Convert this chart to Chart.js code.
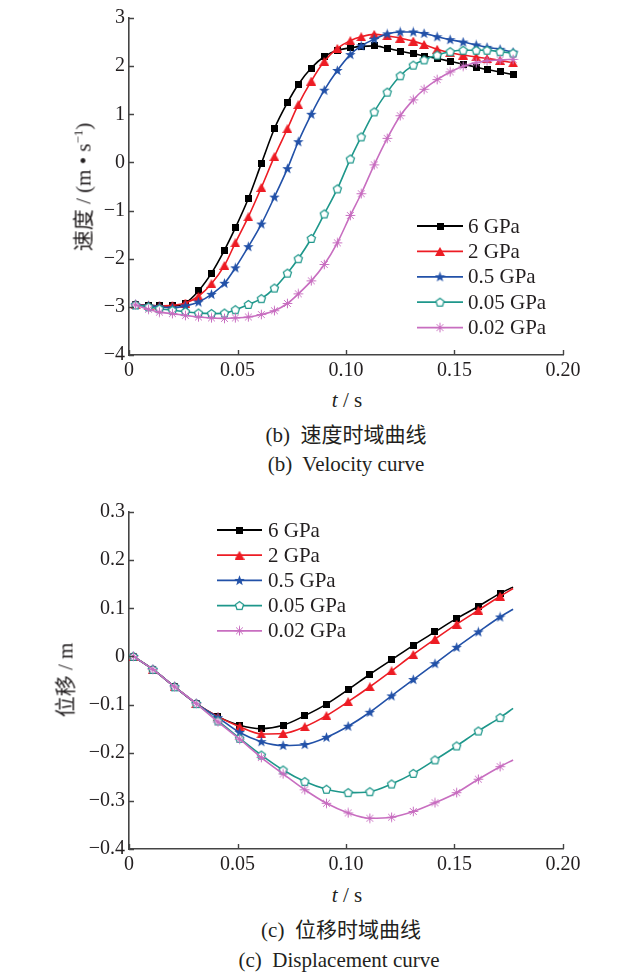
<!DOCTYPE html>
<html>
<head>
<meta charset="utf-8">
<script src="https://cdn.jsdelivr.net/npm/chart.js"></script>
<style>
  html, body { margin: 0; padding: 0; background: #fff; }
  #page {
    position: relative; width: 618px; height: 973px; overflow: hidden;
    font-family: "Liberation Serif", "Noto Sans CJK SC", serif; color: #231f20;
  }
  canvas { position: absolute; left: 0; }
  .txt { position: absolute; white-space: nowrap; transform: translate(-50%, -50%); font-size: 21px; line-height: 1; }
  .ytitle { transform: translate(-50%, -50%) rotate(-90deg); }
  sup { font-size: 13px; vertical-align: 8px; line-height: 0; }
</style>
</head>
<body>
<div id="page">
  <canvas id="chart-velocity" width="618" height="380" style="top:0"></canvas>
  <canvas id="chart-displacement" width="618" height="394" style="top:480px"></canvas>

  <div class="txt ytitle" style="left:84px;top:187px">速度 / (m • s<sup>−1</sup>)</div>
  <div class="txt" style="left:347px;top:400px"><i>t</i> / s</div>
  <div class="txt" style="left:346px;top:435px">(b)&nbsp; 速度时域曲线</div>
  <div class="txt" style="left:346px;top:464px">(b)&nbsp; Velocity curve</div>

  <div class="txt ytitle" style="left:66px;top:680px">位移 / m</div>
  <div class="txt" style="left:347px;top:895px"><i>t</i> / s</div>
  <div class="txt" style="left:341px;top:930px">(c)&nbsp; 位移时域曲线</div>
  <div class="txt" style="left:339px;top:960px">(c)&nbsp; Displacement curve</div>
</div>

<script>
// series shared by both panels
const seriesLabels = ['6 GPa', '2 GPa', '0.5 GPa', '0.05 GPa', '0.02 GPa'];
const seriesColors = ['#000000', '#ed1c24', '#2251a8', '#1e978b', '#c86ec0'];

const xTickLabels = ['0', '0.05', '0.10', '0.15', '0.20'];
const velTickLabels = ['−4', '−3', '−2', '−1', '0', '1', '2', '3'];
const dispTickLabels = ['−0.4', '−0.3', '−0.2', '−0.1', '0', '0.1', '0.2', '0.3'];

// (b) velocity, t in s
const velT = [0.003, 0.009, 0.014, 0.020, 0.026, 0.032, 0.038, 0.044, 0.049, 0.055,
  0.061, 0.067, 0.073, 0.078, 0.084, 0.090, 0.096, 0.102, 0.107, 0.113,
  0.119, 0.125, 0.131, 0.136, 0.142, 0.148, 0.154, 0.160, 0.165, 0.171, 0.177];
const vel6 = [-2.96, -2.97, -2.98, -2.98, -2.92, -2.67, -2.30, -1.82, -1.36, -0.75,
  -0.02, 0.70, 1.24, 1.62, 1.96, 2.20, 2.33, 2.38, 2.41, 2.42,
  2.37, 2.31, 2.26, 2.21, 2.16, 2.10, 2.04, 1.98, 1.93, 1.88, 1.82];
const vel2 = [-2.96, -2.97, -2.98, -2.97, -2.92, -2.78, -2.52, -2.14, -1.67, -1.13,
  -0.52, 0.12, 0.70, 1.20, 1.69, 2.10, 2.37, 2.53, 2.61, 2.66,
  2.63, 2.58, 2.52, 2.45, 2.35, 2.28, 2.23, 2.19, 2.16, 2.12, 2.07];
const vel05 = [-2.96, -2.98, -3.00, -3.02, -2.98, -2.90, -2.74, -2.51, -2.19, -1.75,
  -1.28, -0.72, -0.13, 0.43, 1.00, 1.50, 1.91, 2.24, 2.42, 2.56,
  2.67, 2.71, 2.71, 2.68, 2.61, 2.55, 2.50, 2.44, 2.39, 2.35, 2.29];
const vel005 = [-2.96, -3.00, -3.04, -3.07, -3.10, -3.13, -3.14, -3.13, -3.06, -2.95,
  -2.83, -2.61, -2.30, -2.00, -1.58, -1.07, -0.55, 0.07, 0.53, 1.05,
  1.46, 1.80, 2.02, 2.13, 2.23, 2.30, 2.33, 2.33, 2.33, 2.30, 2.27];
const vel002 = [-2.96, -3.05, -3.11, -3.14, -3.18, -3.21, -3.23, -3.24, -3.23, -3.21,
  -3.16, -3.08, -2.93, -2.73, -2.46, -2.12, -1.67, -1.10, -0.65, -0.05,
  0.50, 0.97, 1.30, 1.52, 1.72, 1.88, 2.00, 2.07, 2.11, 2.13, 2.14];

// (c) displacement, t in s (last point is the line end, no marker)
const dispT = [0.002, 0.011, 0.021, 0.031, 0.041, 0.051, 0.061, 0.071, 0.081, 0.091,
  0.101, 0.111, 0.121, 0.131, 0.141, 0.151, 0.161, 0.171, 0.177];
const disp6 = [0.000, -0.027, -0.063, -0.098, -0.125, -0.143, -0.150, -0.143, -0.123, -0.099,
  -0.069, -0.037, -0.007, 0.023, 0.051, 0.079, 0.104, 0.131, 0.144];
const disp2 = [0.000, -0.027, -0.063, -0.098, -0.125, -0.146, -0.161, -0.160, -0.146, -0.123,
  -0.094, -0.063, -0.030, 0.004, 0.036, 0.067, 0.096, 0.125, 0.141];
const disp05 = [0.000, -0.027, -0.063, -0.098, -0.127, -0.158, -0.177, -0.185, -0.183, -0.168,
  -0.145, -0.116, -0.082, -0.048, -0.015, 0.019, 0.051, 0.082, 0.098];
const disp005 = [0.000, -0.027, -0.063, -0.098, -0.134, -0.170, -0.205, -0.236, -0.260, -0.276,
  -0.283, -0.281, -0.265, -0.243, -0.215, -0.186, -0.155, -0.127, -0.108];
const disp002 = [0.000, -0.027, -0.063, -0.098, -0.136, -0.172, -0.210, -0.244, -0.277, -0.305,
  -0.325, -0.336, -0.334, -0.322, -0.304, -0.283, -0.255, -0.229, -0.215];

const axisColor = '#444444';
const textColor = '#231f20';
const tickFont = { family: '"Liberation Serif", serif', size: 20 };

// --- marker images ---
function markerCanvas(w, h, draw) {
  const c = document.createElement('canvas');
  c.width = w; c.height = h;
  draw(c.getContext('2d'), w, h);
  return c;
}

const markers = [
  markerCanvas(7, 7, (g) => { g.fillStyle = seriesColors[0]; g.fillRect(0, 0, 7, 7); }),
  markerCanvas(10, 9, (g) => {
    g.fillStyle = seriesColors[1];
    g.beginPath(); g.moveTo(5, 0); g.lineTo(10, 9); g.lineTo(0, 9); g.closePath(); g.fill();
  }),
  markerCanvas(11, 11, (g) => {
    g.fillStyle = seriesColors[2];
    g.beginPath();
    for (let k = 0; k < 10; k++) {
      const r = k % 2 ? 2.3 : 5.5;
      const a = -Math.PI / 2 + k * Math.PI / 5;
      g.lineTo(5.5 + r * Math.cos(a), 5.8 + r * Math.sin(a));
    }
    g.closePath(); g.fill();
  }),
  markerCanvas(11, 11, (g) => {
    g.fillStyle = '#ffffff'; g.strokeStyle = seriesColors[3]; g.lineWidth = 1.2;
    g.beginPath();
    for (let k = 0; k < 5; k++) {
      const a = -Math.PI / 2 + k * 2 * Math.PI / 5;
      g.lineTo(5.5 + 4.3 * Math.cos(a), 5.8 + 4.3 * Math.sin(a));
    }
    g.closePath(); g.fill(); g.stroke();
  }),
  markerCanvas(11, 11, (g) => {
    g.strokeStyle = seriesColors[4]; g.lineWidth = 1;
    g.beginPath();
    for (let k = 0; k < 4; k++) {
      const a = k * Math.PI / 4;
      g.moveTo(5.5 - 4.8 * Math.cos(a), 5.5 - 4.8 * Math.sin(a));
      g.lineTo(5.5 + 4.8 * Math.cos(a), 5.5 + 4.8 * Math.sin(a));
    }
    g.stroke();
  }),
];

// ticks pointing into the plot
const insideTicks = {
  id: 'insideTicks',
  afterDraw(chart) {
    const { ctx, chartArea, scales } = chart;
    ctx.save();
    ctx.strokeStyle = axisColor;
    ctx.lineWidth = 1.4;
    ctx.beginPath();
    for (const t of scales.x.ticks) {
      const px = Math.round(scales.x.getPixelForValue(t.value)) + 0.5;
      ctx.moveTo(px, chartArea.bottom);
      ctx.lineTo(px, chartArea.bottom - 5);
    }
    for (const t of scales.y.ticks) {
      const py = Math.round(scales.y.getPixelForValue(t.value)) + 0.5;
      ctx.moveTo(chartArea.left, py);
      ctx.lineTo(chartArea.left + 5, py);
    }
    ctx.stroke();
    ctx.restore();
  },
};

// line + marker legend
const lineLegend = {
  id: 'lineLegend',
  afterDatasetsDraw(chart, args, opts) {
    const { ctx } = chart;
    ctx.save();
    ctx.font = '21px "Liberation Serif", serif';
    ctx.textBaseline = 'middle';
    ctx.fillStyle = textColor;
    chart.data.datasets.forEach((ds, i) => {
      const y = opts.y + i * opts.rowGap;
      ctx.strokeStyle = ds.borderColor;
      ctx.lineWidth = 1.8;
      ctx.beginPath();
      ctx.moveTo(opts.x, y);
      ctx.lineTo(opts.x + opts.lineLen, y);
      ctx.stroke();
      const m = ds.pointStyle;
      ctx.drawImage(m, opts.x + opts.lineLen / 2 - m.width / 2, y - m.height / 2);
      ctx.fillText(ds.label, opts.x + opts.lineLen + opts.textGap, y + 1);
    });
    ctx.restore();
  },
};

function makeChart(id, tValues, seriesValues, yMin, yMax, yStep, yLabels, cfg) {
  const last = tValues.length - 1;
  return new Chart(document.getElementById(id), {
    type: 'line',
    data: {
      datasets: seriesValues.map((vals, i) => ({
        label: seriesLabels[i],
        data: tValues.map((t, j) => ({ x: t, y: vals[j] })),
        borderColor: seriesColors[i],
        backgroundColor: seriesColors[i],
        borderWidth: 1.6,
        pointStyle: markers[i],
        pointRadius: (c) => (cfg.skipLastMarker && c.dataIndex === last ? 0 : 4),
        cubicInterpolationMode: 'monotone',
        fill: false,
        order: 5 - i,
      })),
    },
    options: {
      responsive: false,
      animation: false,
      devicePixelRatio: 1,
      layout: { padding: cfg.padding },
      plugins: {
        legend: { display: false },
        tooltip: { enabled: false },
        lineLegend: cfg.legend,
      },
      scales: {
        x: {
          type: 'linear',
          min: 0,
          max: 0.2,
          afterFit: (s) => { s.height = 25; },
          grid: { display: false, drawTicks: false },
          border: { display: true, color: axisColor, width: 1.6 },
          ticks: {
            stepSize: 0.05,
            autoSkip: false,
            maxRotation: 0,
            padding: 4,
            color: textColor,
            font: tickFont,
            callback: (v, i) => xTickLabels[i],
          },
        },
        y: {
          min: yMin,
          max: yMax,
          afterFit: (s) => { s.width = 129; },
          grid: { display: false, drawTicks: false },
          border: { display: true, color: axisColor, width: 1.6 },
          ticks: {
            stepSize: yStep,
            autoSkip: false,
            padding: 4,
            color: textColor,
            font: tickFont,
            callback: (v, i) => yLabels[i],
          },
        },
      },
    },
    plugins: [insideTicks, lineLegend],
  });
}

makeChart('chart-velocity', velT, [vel6, vel2, vel05, vel005, vel002], -4, 3, 1, velTickLabels, {
  padding: { top: 18, right: 55, bottom: 0, left: 0 },
  legend: { x: 417, y: 226, rowGap: 25.4, lineLen: 46, textGap: 5 },
  skipLastMarker: false,
});

makeChart('chart-displacement', dispT, [disp6, disp2, disp05, disp005, disp002], -0.4, 0.3, 0.1, dispTickLabels, {
  padding: { top: 32, right: 55, bottom: 0, left: 0 },
  legend: { x: 217, y: 50, rowGap: 25.2, lineLen: 45, textGap: 6 },
  skipLastMarker: true,
});
</script>
</body>
</html>
